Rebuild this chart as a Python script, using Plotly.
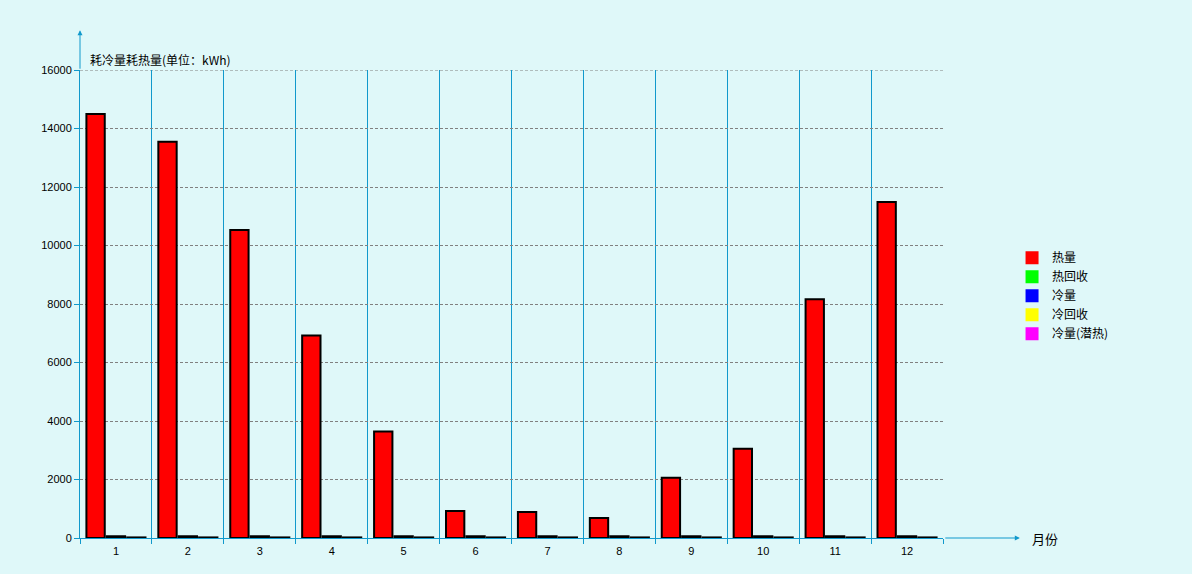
import plotly.graph_objects as go

months = ["1", "2", "3", "4", "5", "6", "7", "8", "9", "10", "11", "12"]
heat = [14500, 13550, 10530, 6920, 3640, 920, 890, 680, 2060, 3050, 8160, 11490]
cool = [60, 60, 60, 60, 60, 60, 60, 60, 60, 60, 60, 60]
cool_latent = [20, 20, 20, 20, 20, 20, 20, 20, 20, 20, 20, 20]

legend_names = ["热量", "热回收", "冷量", "冷回收", "冷量(潜热)"]
legend_colors = ["#FF0000", "#00FF00", "#0000FF", "#FFFF00", "#FF00FF"]

BG = "#DFF8F9"
AXIS = "#1199CC"
FONT = "Liberation Sans, Noto Sans CJK SC, sans-serif"

fig = go.Figure()

for vals, color in [(heat, "#FF0000"), (cool, "#0000FF"), (cool_latent, "#FF00FF")]:
    fig.add_trace(
        go.Bar(
            x=months,
            y=vals,
            marker=dict(color=color, line=dict(color="black", width=2)),
            showlegend=False,
        )
    )

# legend-only entries
for name, color in zip(legend_names, legend_colors):
    fig.add_trace(
        go.Scatter(
            x=[None],
            y=[None],
            mode="markers",
            name=name,
            marker=dict(symbol="square", color=color, size=13),
        )
    )

fig.update_layout(
    width=1192,
    height=574,
    margin=dict(l=80, r=249, t=70, b=36),
    paper_bgcolor=BG,
    plot_bgcolor=BG,
    barmode="group",
    bargap=0.15,
    bargroupgap=0.1,
    font=dict(family=FONT, size=11, color="#000"),
    legend=dict(
        x=1.080,
        y=0.63,
        xanchor="left",
        yanchor="top",
        bgcolor="rgba(0,0,0,0)",
        font=dict(size=12, family="Noto Sans CJK SC"),
        tracegroupgap=0,
    ),
    xaxis=dict(
        type="category",
        tickson="boundaries",
        showgrid=True,
        gridcolor=AXIS,
        gridwidth=1,
        ticks="outside",
        ticklen=5,
        tickcolor=AXIS,
        ticklabelstandoff=3,
        showline=True,
        linecolor=AXIS,
        zeroline=False,
        range=[-0.5, 11.5],
    ),
    yaxis=dict(
        range=[0, 16000],
        dtick=2000,
        tickformat="d",
        showgrid=True,
        gridcolor="#808080",
        griddash="3px,2px",
        ticks="outside",
        ticklen=5,
        tickcolor=AXIS,
        showline=True,
        linecolor=AXIS,
        zeroline=False,
    ),
)

# top gridline at the range edge
fig.add_shape(
    type="line", xref="paper", yref="y", x0=0, x1=1, y0=16000, y1=16000,
    line=dict(color="#808080", width=1, dash="3px,2px"), layer="below",
)

# axis arrows extending beyond the plot
fig.add_annotation(
    x=1.089, y=0, xref="paper", yref="paper", text="",
    showarrow=True, ax=-76, ay=0, axref="pixel", ayref="pixel",
    arrowhead=2, arrowsize=1, arrowwidth=1, arrowcolor=AXIS,
)
fig.add_annotation(
    x=0, y=1.085, xref="paper", yref="paper", text="",
    showarrow=True, ax=0, ay=40, axref="pixel", ayref="pixel",
    arrowhead=2, arrowsize=1, arrowwidth=1, arrowcolor=AXIS,
)

fig.add_annotation(
    x=0.009, y=1.0235, xref="paper", yref="paper",
    text="耗冷量耗热量(单位：kWh)", showarrow=False,
    xanchor="left", yanchor="middle",
    font=dict(size=12, family="Noto Sans CJK SC", color="#000"),
)
fig.add_annotation(
    x=1.1008, y=0, xref="paper", yref="paper",
    text="月份", showarrow=False,
    xanchor="left", yanchor="middle",
    font=dict(size=13, family="Noto Sans CJK SC", color="#000"),
)

fig.write_html(
    "out.html",
    config={"displayModeBar": False},
    post_script="document.body.style.margin='0';",
)
